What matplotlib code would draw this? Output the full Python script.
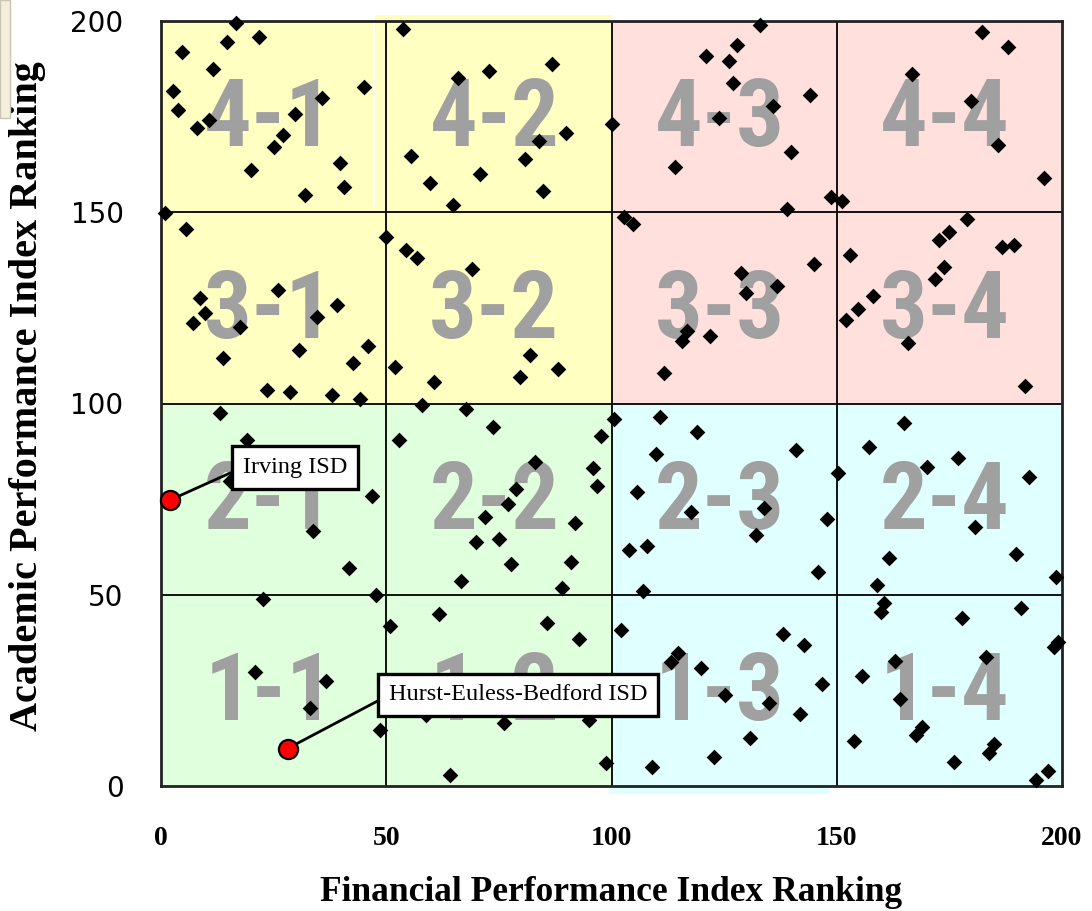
import matplotlib
matplotlib.use("Agg")
import matplotlib.pyplot as plt
from matplotlib.patches import Rectangle

# Financial (x) and academic (y) performance index rankings of districts
fpi_rank = [16.7, 14.7, 21.8, 4.7, 11.5, 2.7, 3.8, 7.9, 10.7, 29.8, 35.8, 45.0, 27.0, 25.0,
            19.9, 39.8, 40.7, 32.0, 0.9, 5.6,
            53.7, 65.9, 72.7, 86.7, 100.2, 89.9, 83.9, 80.7, 55.6, 70.9, 59.8, 84.8, 64.8,
            8.7, 9.8, 7.0, 17.6, 25.9, 39.0, 34.7, 13.8, 30.6, 45.9, 42.6, 23.6, 28.7, 38.0, 44.1,
            50.0, 54.4, 56.8, 69.0, 82.0, 88.1, 79.6, 51.9, 60.7,
            133.0, 127.9, 121.0, 126.1, 127.0, 144.1, 135.8, 123.8, 139.9, 114.0, 148.7, 151.2, 139.0,
            182.2, 188.1, 166.7, 179.8, 185.7, 196.1,
            102.7, 104.7, 145.0, 128.8, 136.7, 129.8, 116.7, 115.6, 121.8, 111.6,
            178.9, 175.0, 172.8, 186.6, 189.3, 173.7, 171.8, 153.0, 158.0, 154.7, 152.1, 165.8, 191.8,
            13.0, 19.0, 15.3, 46.8, 33.8, 41.8, 47.8, 22.7,
            20.9, 36.7, 33.0, 48.7,
            58.0, 67.6, 73.7, 52.8, 97.7, 100.5, 83.0, 95.9, 96.8, 78.9, 77.0, 71.9, 91.8, 70.0,
            75.0, 77.8, 90.9, 66.7, 89.0,
            61.7, 50.9, 85.7, 92.7, 58.9, 76.1, 95.0, 98.7, 64.1,
            110.7, 119.0, 109.9, 140.9, 105.6, 150.2, 117.7, 133.8, 132.1, 147.8, 103.9, 107.9,
            145.9, 107.0,
            165.0, 157.1, 177.0, 170.1, 192.7, 180.7, 161.7, 189.9, 198.7, 158.9,
            160.5, 159.8, 190.9, 177.9, 198.3, 199.2, 163.0, 183.1, 155.7, 164.1, 169.0, 167.6,
            153.8, 185.0, 183.8, 176.1, 196.8, 194.2,
            102.0, 138.0, 142.7, 114.7, 113.1, 119.9, 146.8, 125.1, 135.0, 141.8, 130.7, 122.7, 108.9]
api_rank = [199.6, 194.6, 195.7, 191.9, 187.5, 181.8, 176.7, 171.9, 174.1, 175.7, 180.0, 182.7, 170.2, 167.0,
            161.0, 162.8, 156.7, 154.5, 149.7, 145.7,
            197.8, 185.0, 187.0, 188.8, 173.0, 170.8, 168.6, 163.8, 164.8, 160.0, 157.7, 155.6, 151.9,
            127.5, 123.6, 121.0, 119.9, 129.7, 125.8, 122.7, 111.8, 114.0, 115.0, 110.7, 103.5, 103.1, 102.2, 101.1,
            143.6, 140.1, 138.0, 135.1, 112.7, 108.9, 106.8, 109.5, 105.7,
            199.0, 193.7, 190.8, 189.6, 183.9, 180.7, 177.9, 174.6, 165.8, 161.7, 154.1, 153.0, 150.8,
            197.0, 193.1, 186.1, 179.2, 167.6, 158.9,
            148.8, 146.9, 136.6, 134.0, 130.7, 129.0, 119.0, 116.4, 117.6, 107.9,
            148.2, 144.9, 142.7, 140.8, 141.4, 135.6, 132.6, 138.8, 128.1, 124.6, 121.8, 115.9, 104.6,
            97.4, 90.5, 79.7, 75.9, 66.7, 56.9, 49.9, 48.8,
            29.9, 27.5, 20.5, 14.6,
            99.6, 98.6, 93.8, 90.5, 91.6, 95.9, 84.6, 83.2, 78.5, 77.6, 73.6, 70.4, 68.8, 63.9,
            64.5, 58.0, 58.6, 53.7, 51.7,
            44.9, 41.8, 42.7, 38.4, 18.6, 16.4, 17.3, 5.9, 2.9,
            96.6, 92.6, 86.7, 87.8, 76.9, 81.7, 71.6, 72.6, 65.6, 69.8, 61.7, 62.8,
            55.9, 51.0,
            94.8, 88.7, 85.7, 83.5, 80.9, 67.8, 59.5, 60.7, 54.7, 52.5,
            47.8, 45.4, 46.5, 43.8, 36.4, 37.7, 32.7, 33.8, 28.8, 22.7, 15.5, 13.3,
            11.8, 10.9, 8.5, 6.4, 3.9, 1.6,
            40.8, 39.7, 36.9, 34.9, 32.5, 30.9, 26.6, 23.8, 21.6, 18.7, 12.5, 7.7, 5.0]

# highlighted districts
highlight_names = ["Irving ISD", "Hurst-Euless-Bedford ISD"]
highlight_fpi = [1.9, 28.1]
highlight_api = [74.7, 9.8]
label_pos = [(29.7, 83.3), (79.3, 23.8)]

cuts = [0, 50, 100, 150, 200]
colors = {("lo", "lo"): "#e0ffdc", ("hi", "lo"): "#e0ffff",
          ("lo", "hi"): "#ffffc2", ("hi", "hi"): "#ffe0dc"}

fig = plt.figure(figsize=(10.92, 9.11), dpi=100)
ax = fig.add_axes([161/1092, 1 - 786/911, 901/1092, 765/911])

# coloured cells with the quartile codes
for i in range(4):
    for j in range(4):
        key = ("lo" if i < 2 else "hi", "lo" if j < 2 else "hi")
        ax.add_patch(Rectangle((cuts[i], cuts[j]), 50, 50, facecolor=colors[key],
                               edgecolor="none", zorder=0))
        ax.text(cuts[i] + 24, cuts[j] + 24, f"{j+1}-{i+1}", ha="center", va="center",
                fontsize=68, fontweight="black", fontstretch="condensed", color="#a0a0a0",
                zorder=1, family=["Roboto Condensed", "Roboto", "DejaVu Sans"])

# small paste artefacts of the original picture
ax.add_patch(Rectangle((47.6, 150), 52.6, 51.5, facecolor=colors[("lo", "hi")],
                       edgecolor="none", zorder=0, clip_on=False))
ax.add_patch(Rectangle((47.1, 151.4), 0.5, 49, facecolor="white", edgecolor="none", zorder=0))
ax.add_patch(Rectangle((99.5, -2), 49, 2, facecolor=colors[("hi", "lo")],
                       edgecolor="none", zorder=0, clip_on=False))

for c in cuts[1:-1]:
    ax.axvline(c, color="#111111", lw=1.4, zorder=2)
    ax.axhline(c, color="#111111", lw=1.4, zorder=2)

ax.scatter(fpi_rank, api_rank, marker="D", s=64, color="black", linewidths=0,
           zorder=4, clip_on=False)

for name, hx, hy, pos in zip(highlight_names, highlight_fpi, highlight_api, label_pos):
    ax.annotate(name, xy=(hx, hy), xytext=pos, ha="center", va="center",
                fontsize=17.5, family="Liberation Serif", zorder=5,
                bbox=dict(boxstyle="square,pad=0.44", facecolor="white", edgecolor="black", lw=2.4),
                arrowprops=dict(arrowstyle="-", color="black", lw=2, relpos=(0, 0.5),
                                shrinkA=0, shrinkB=0))
ax.scatter(highlight_fpi, highlight_api, s=190, color="#ff0000", edgecolors="black",
           linewidths=1.6, zorder=6, clip_on=False)

ax.set_xlim(0, 200)
ax.set_ylim(0, 200)
ax.set_xticks(cuts)
ax.set_yticks(cuts)
ax.tick_params(length=0)
ax.tick_params(axis="x", pad=29)
ax.tick_params(axis="y", pad=27)
for lab in ax.get_xticklabels():
    lab.set_fontfamily("Liberation Serif")
    lab.set_fontweight("bold")
    lab.set_fontsize(20)
for lab in ax.get_yticklabels():
    lab.set_fontfamily("DejaVu Sans")
    lab.set_fontsize(20)

for sp in ax.spines.values():
    sp.set_color("#222222")
    sp.set_linewidth(2)
    sp.set_zorder(3)

ax.set_xlabel("Financial Performance Index Ranking", fontsize=25.5, fontweight="bold",
              family="Liberation Serif")
ax.set_ylabel("Academic Performance Index Ranking", fontsize=29, fontweight="bold",
              family="Liberation Serif")
ax.xaxis.set_label_coords(0.5, -(876 - 786) / 765)
ax.yaxis.set_label_coords(-(161 - 46) / 901, 0.51)

# beige corner strip at top left
fig.patches.append(Rectangle((0, 1 - 118/911), 10/1092, 118/911, transform=fig.transFigure,
                             facecolor="#f3efdc", edgecolor="#c9c5b5", lw=1))

fig.savefig("out.png", dpi=100)
